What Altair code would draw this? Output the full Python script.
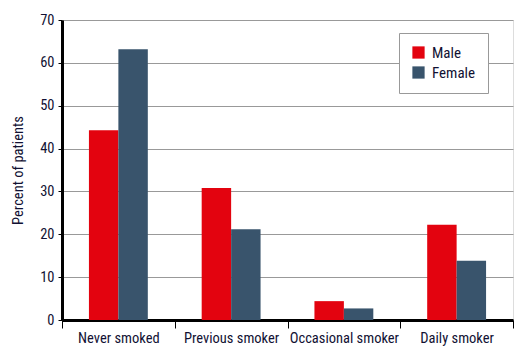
import altair as alt
import pandas as pd

categories = ["Never smoked", "Previous smoker", "Occasional smoker", "Daily smoker"]
male = [44.3, 30.8, 4.4, 22.2]
female = [63.2, 21.2, 2.7, 13.8]
series = ["Male", "Female"]
colors = ["#E3030F", "#39546C"]

rows = []
for c, m, f in zip(categories, male, female):
    rows.append({"cat": c, "sex": "Male", "val": m})
    rows.append({"cat": c, "sex": "Female", "val": f})
df = pd.DataFrame(rows)

FONT = "Roboto Condensed"

chart = alt.Chart(df).mark_bar().encode(
    x=alt.X("cat:N", sort=categories, title=None,
            scale=alt.Scale(paddingInner=0, paddingOuter=0),
            axis=alt.Axis(labelAngle=0, tickBand="extent", domainColor="black", domainWidth=3,
                          tickColor="black", tickWidth=1, tickSize=8, labelPadding=3,
                          labelFont=FONT, labelFontSize=14.5, labelColor="#111133", grid=False)),
    xOffset=alt.XOffset("sex:N", sort=series, scale=alt.Scale(paddingOuter=0.915, paddingInner=0)),
    y=alt.Y("val:Q", title="Percent of patients",
            scale=alt.Scale(domain=[0, 70], nice=False),
            axis=alt.Axis(values=[0, 10, 20, 30, 40, 50, 60, 70], domainColor="black", domainWidth=3,
                          tickColor="black", tickSize=4, tickWidth=1, gridColor="#999999", gridWidth=1.2,
                          labelFont=FONT, labelFontSize=14.5, labelColor="#111133", labelPadding=4,
                          titleFont=FONT, titleFontSize=14.5, titleFontWeight="normal", titleColor="#111133",
                          titlePadding=14)),
    color=alt.Color("sex:N", sort=series, scale=alt.Scale(domain=series, range=colors),
                    legend=alt.Legend(title=None, orient="none", legendX=337, legendY=13,
                                      strokeColor="#999999", fillColor="white", padding=12,
                                      symbolType="square", symbolSize=150, symbolStrokeWidth=0,
                                      labelFont=FONT, labelFontSize=15, labelColor="#111133",
                                      rowPadding=4, labelOffset=6)),
).properties(
    width=451, height=300,
    autosize=alt.AutoSizeParams(type="none"),
    padding={"left": 62, "top": 20, "right": 11, "bottom": 32},
).configure_view(stroke=None).configure(background="white")

chart.save("out.html", embed_options={"renderer": "svg", "actions": False})
